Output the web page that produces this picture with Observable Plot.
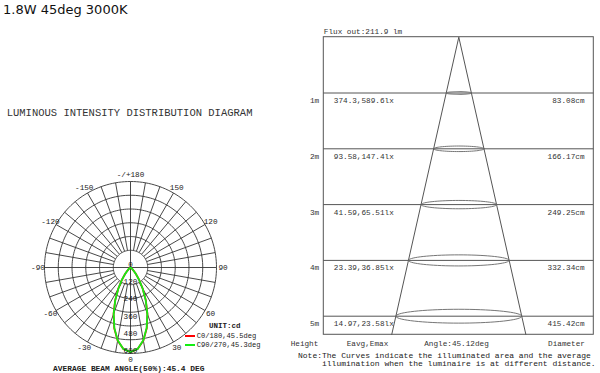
<!DOCTYPE html>
<html><head><meta charset="utf-8">
<script src="https://cdn.jsdelivr.net/npm/d3@7"></script>
<script src="https://cdn.jsdelivr.net/npm/@observablehq/plot@0.6"></script>
<style>
body{margin:0;background:#fff;}
#wrap{position:relative;width:600px;height:373px;overflow:hidden;background:#fff;font-family:"Liberation Mono",monospace;color:#222;}
.t{position:absolute;white-space:pre;line-height:10px;height:10px;}
#wrap svg{position:absolute;top:0;overflow:visible;}
</style></head><body><div id="wrap"></div>
<script>
// ---------- data ----------
const chartTitle = "1.8W 45deg 3000K";
const polarTitle = "LUMINOUS INTENSITY DISTRIBUTION DIAGRAM";
const gammaAngles   = [0, 5, 10, 15, 20, 25, 30, 35, 40, 45, 50, 55, 60, 65, 70, 75, 80, 85, 90];
const c0Intensity   = [590, 571, 517, 438, 345, 253, 171, 105, 59, 30, 13, 5, 2, 1, 0, 0, 0, 0, 0];
const c90Intensity  = [590, 570, 516, 436, 343, 251, 169, 104, 58, 29, 13, 5, 2, 1, 0, 0, 0, 0, 0];
const intensityTicks = [0, 120, 240, 360, 480, 600];
const gridRings = [120, 216, 312, 408, 504, 600];
const angleTicks = [0, 30, 60, 90, 120, 150, 180, -150, -120, -90, -60, -30];
const angleTickLabels = ["0", "30", "60", "90", "120", "150", "-/+180", "-150", "-120", "-90", "-60", "-30"];
const seriesNames = ["C0/180,45.5deg", "C90/270,45.3deg"];
const seriesColors = ["#ff0000", "#14ee14"];
const unitLabel = "UNIT:cd";
const beamAngleLabel = "AVERAGE BEAM ANGLE(50%):45.4 DEG";

const heights   = [1, 2, 3, 4, 5];
const eavg      = [374.3, 93.58, 41.59, 23.39, 14.97];
const emax      = [589.6, 147.4, 65.51, 36.85, 23.58];
const diameters = [83.08, 166.17, 249.25, 332.34, 415.42];
const fluxOut = "Flux out:211.9 lm";
const coneAngle = "Angle:45.12deg";
const columnHeads = ["Height", "Eavg,Emax", "Diameter"];
const noteLines = ["Note:The Curves indicate the illuminated area and the average",
                   "illumination when the luminaire is at different distance."];

// ---------- layout ----------
const H = 373;
const wrap = document.getElementById("wrap");
function addText(txt, left, cy, size, extra) {
  const d = document.createElement("div");
  d.className = "t";
  d.textContent = txt;
  d.style.left = left + "px";
  d.style.top = (cy - 5) + "px";
  d.style.fontSize = size + "px";
  if (extra) Object.assign(d.style, extra);
  wrap.appendChild(d);
  return d;
}

// titles
addText(chartTitle, 3, 9, 13, {fontFamily: "'DejaVu Sans',sans-serif", lineHeight: "18px", height: "18px", top: "1px", color: "#111"});
addText(polarTitle, 6.7, 113, 10.5, {color: "#333"});

// ---------- polar chart ----------
const WL = 280, CX = 130, CY = 267, R_PX = 86, IMAX = 600;
const k = R_PX / IMAX;
const rad = a => a * Math.PI / 180;
const pol = (I, a) => ({x: I * Math.sin(rad(a)), y: -I * Math.cos(rad(a))});

const ringPts = [];
for (const r of gridRings) for (let a = 0; a <= 360; a += 2) ringPts.push({...pol(r, a), r});
const spokes = [];
for (let a = 0; a < 360; a += 10) {
  const r0 = a % 90 === 0 ? 0 : gridRings[0];
  const p0 = pol(r0, a), p1 = pol(IMAX, a);
  spokes.push({x1: p0.x, y1: p0.y, x2: p1.x, y2: p1.y});
}
function lobe(vals) {
  const pts = [];
  for (let i = gammaAngles.length - 1; i >= 0; i--) pts.push(pol(vals[i], -gammaAngles[i]));
  for (let i = 1; i < gammaAngles.length; i++) pts.push(pol(vals[i], gammaAngles[i]));
  return pts;
}
const LBL = 92.5 / k;

const left = Plot.plot({
  width: WL, height: H, margin: 0,
  x: {domain: [-CX / k, (WL - CX) / k], axis: null},
  y: {domain: [-(H - CY) / k, CY / k], axis: null},
  style: {fontFamily: "'Liberation Mono',monospace", fontSize: "7.7px", background: "transparent"},
  marks: [
    Plot.line(ringPts, {x: "x", y: "y", z: "r", stroke: "#333", strokeWidth: 0.9}),
    Plot.link(spokes, {x1: "x1", y1: "y1", x2: "x2", y2: "y2", stroke: "#333", strokeWidth: 0.9}),
    Plot.line(lobe(c0Intensity), {x: "x", y: "y", stroke: seriesColors[0], strokeWidth: 1.8}),
    Plot.line(lobe(c90Intensity), {x: "x", y: "y", stroke: seriesColors[1], strokeWidth: 1.8}),
    Plot.text(intensityTicks, {x: () => 0, y: d => -d, text: d => String(d), dy: -3, fill: "#1a1a1a"}),
    Plot.text(angleTicks, {x: d => pol(LBL, d).x, y: d => pol(LBL, d).y, text: (d, i) => angleTickLabels[i], fill: "#1a1a1a"})
  ]
});
left.style.left = "0px";
wrap.appendChild(left);

// legend (html)
addText(unitLabel, 209, 326, 7.5, {fontWeight: "bold"});
seriesNames.forEach((name, i) => {
  const cy = [336, 344.6][i];
  const sw = document.createElement("div");
  sw.style.cssText = `position:absolute;left:185px;top:${cy - 1}px;width:10px;height:2px;background:${seriesColors[i]}`;
  wrap.appendChild(sw);
  addText(name, 196.7, cy, 7.1);
});
addText(beamAngleLabel, 53, 368.5, 7.9, {fontWeight: "bold", lineHeight: "8px", height: "8px", top: "364.5px"});

// ---------- cone diagram ----------
const RX0 = 280, WR = 320, AX = 458.3 - RX0, AY = 36.7, PPM = 55.8, PPC = 0.303;
const cm = gx => (gx - RX0 - AX) / PPC;
const BOXW = 135 / PPC, BOXB = 5.333;
const slope = diameters[4] / 2 / heights[4];
const ASPECT = 0.11;
const ellPts = [];
heights.forEach((h, i) => {
  const rx = diameters[i] / 2, ry = rx * PPC * ASPECT / PPM;
  for (let a = 0; a < 360; a += 5) ellPts.push({x: rx * Math.cos(rad(a)), y: h + ry * Math.sin(rad(a)), h});
});
const rowDy = 0.136, headY = (343 - AY) / PPM;

const right = Plot.plot({
  width: WR, height: H, margin: 0,
  x: {domain: [-AX / PPC, (WR - AX) / PPC], axis: null},
  y: {domain: [-AY / PPM, (H - AY) / PPM], range: [0, H], axis: null},
  style: {fontFamily: "'Liberation Mono',monospace", fontSize: "7.7px", background: "transparent"},
  marks: [
    Plot.rect([0], {x1: () => -BOXW, x2: () => BOXW, y1: () => 0, y2: () => BOXB, fill: "none", stroke: "#555", strokeWidth: 1}),
    Plot.ruleY(heights, {y: d => d, x1: () => -BOXW, x2: () => BOXW, stroke: "#555", strokeWidth: 1}),
    Plot.link([-1, 1], {x1: () => 0, y1: () => 0, x2: s => s * slope * BOXB, y2: () => BOXB, stroke: "#555", strokeWidth: 1}),
    Plot.line(ellPts, {x: "x", y: "y", z: "h", curve: "linear-closed", stroke: "#666", strokeWidth: 0.9}),
    Plot.text([fluxOut], {x: () => -BOXW, y: () => (31 - AY) / PPM, text: d => d, textAnchor: "start", fill: "#333"}),
    Plot.text(heights, {x: () => cm(314), y: d => d + rowDy, text: d => d + "m", fill: "#333"}),
    Plot.text(heights, {x: () => cm(333.3), y: d => d + rowDy, text: (d, i) => `${eavg[i]},${emax[i]}lx`, textAnchor: "start", fill: "#333"}),
    Plot.text(heights, {x: () => cm(584), y: d => d + rowDy, text: (d, i) => `${diameters[i].toFixed(2)}cm`, textAnchor: "end", fill: "#333"}),
    Plot.text([columnHeads[0]], {x: () => cm(304), y: () => headY, text: d => d, fill: "#333"}),
    Plot.text([columnHeads[1]], {x: () => cm(367), y: () => headY, text: d => d, fill: "#333"}),
    Plot.text([coneAngle], {x: () => cm(456), y: () => headY, text: d => d, fill: "#333"}),
    Plot.text([columnHeads[2]], {x: () => cm(566), y: () => headY, text: d => d, fill: "#333"})
  ]
});
right.style.left = RX0 + "px";
wrap.appendChild(right);

addText(noteLines[0], 298, 355.5, 8, {color: "#222"});
addText(noteLines[1], 322, 364.3, 8, {color: "#222"});
</script></body></html>
